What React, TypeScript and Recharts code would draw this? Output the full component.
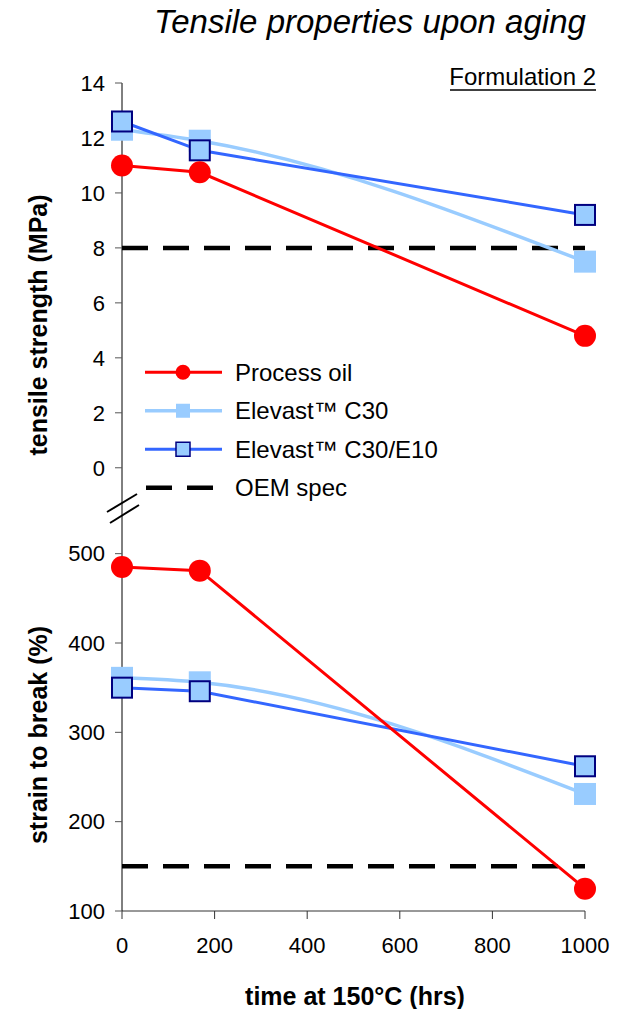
import React from 'react';
import { LineChart, Line, XAxis, YAxis, Legend } from 'recharts';

const times = [0, 168, 1000];
const seriesNames = ['Process oil', 'Elevast™ C30', 'Elevast™ C30/E10', 'OEM spec'];

const processOilTS = [11.0, 10.75, 4.8];
const c30TS = [12.3, 11.9, 7.5];
const c30e10TS = [12.6, 11.55, 9.2];
const oemTS = 8;

const processOilSB = [485, 481, 125];
const c30SB = [361, 356, 231];
const c30e10SB = [350, 346, 262];
const oemSB = 150;

const xTicks = [0, 200, 400, 600, 800, 1000];
const topTicks = [0, 2, 4, 6, 8, 10, 12, 14];
const bottomTicks = [100, 200, 300, 400, 500];

const title = 'Tensile properties upon aging';
const subtitle = 'Formulation 2';
const topYLabel = 'tensile strength (MPa)';
const bottomYLabel = 'strain to break (%)';
const xLabel = 'time at 150°C (hrs)';

const topData = times.map((t, i) => ({ t, oil: processOilTS[i], c30: c30TS[i], e10: c30e10TS[i], oem: oemTS }));
const bottomData = times.map((t, i) => ({ t, oil: processOilSB[i], c30: c30SB[i], e10: c30e10SB[i], oem: oemSB }));

const FONT = '"Liberation Sans", Arial, sans-serif';
const RED = '#FF0000';
const LIGHT = '#99CCFF';
const BLUE = '#3366FF';
const NAVY = '#000080';

const CircleDot = (props: any) => {
  const { cx, cy, index } = props;
  if (cx == null || cy == null) return null;
  return <circle key={`o${index}`} cx={cx} cy={cy} r={11} fill={RED} />;
};
const LightSquare = (props: any) => {
  const { cx, cy, index } = props;
  if (cx == null || cy == null) return null;
  return <rect key={`l${index}`} x={cx - 11} y={cy - 11} width={22} height={22} fill={LIGHT} />;
};
const NavySquare = (props: any) => {
  const { cx, cy, index } = props;
  if (cx == null || cy == null) return null;
  return <rect key={`n${index}`} x={cx - 10} y={cy - 10} width={20} height={20} fill={LIGHT} stroke={NAVY} strokeWidth={2} />;
};

const LegendContent = () => {
  const rowH = 38.5;
  return (
    <svg width={340} height={rowH * 4} style={{ display: 'block' }}>
      {seriesNames.map((name, i) => {
        const cy = rowH * i + rowH / 2;
        let sym: React.ReactNode = null;
        if (i === 0) {
          sym = (
            <g>
              <line x1={0} x2={77} y1={cy} y2={cy} stroke={RED} strokeWidth={3} />
              <circle cx={38} cy={cy} r={7.5} fill={RED} />
            </g>
          );
        } else if (i === 1) {
          sym = (
            <g>
              <line x1={0} x2={77} y1={cy} y2={cy} stroke={LIGHT} strokeWidth={3.5} />
              <rect x={31} y={cy - 7} width={14} height={14} fill={LIGHT} />
            </g>
          );
        } else if (i === 2) {
          sym = (
            <g>
              <line x1={0} x2={77} y1={cy} y2={cy} stroke={BLUE} strokeWidth={3} />
              <rect x={31} y={cy - 7} width={14} height={14} fill={LIGHT} stroke={NAVY} strokeWidth={1.5} />
            </g>
          );
        } else {
          sym = <line x1={1} x2={68} y1={cy} y2={cy} stroke="#000" strokeWidth={4.5} strokeDasharray="26 15" />;
        }
        return (
          <g key={name}>
            {sym}
            <text x={90} y={cy} dy="0.35em" fontSize={24} fontFamily={FONT} fill="#000">{name}</text>
          </g>
        );
      })}
    </svg>
  );
};

const tickStyle = { fontSize: 22, fill: '#000', fontFamily: FONT };

export default function App() {
  return (
    <div style={{ position: 'absolute', left: 0, top: 0, width: 625, height: 1009, background: '#fff', fontFamily: FONT }}>
      <div style={{ position: 'absolute', left: 0, top: 0 }}>
        <LineChart width={625} height={509} data={topData} margin={{ top: 83, right: 40, bottom: 0, left: 0 }}>
          <XAxis type="number" dataKey="t" domain={[0, 1000]} ticks={xTicks} hide height={0} />
          <YAxis
            type="number"
            domain={[-1.5, 14]}
            ticks={topTicks}
            interval={0}
            width={122}
            tickSize={7}
            tickMargin={10}
            tick={tickStyle}
            axisLine={{ stroke: '#000', strokeWidth: 1 }}
            tickLine={{ stroke: '#555', strokeWidth: 1 }}
            allowDataOverflow
          />
          <Line dataKey="oem" stroke="#000" strokeWidth={4.5} strokeDasharray="26 15" dot={false} activeDot={false} isAnimationActive={false} legendType="none" />
          <Line dataKey="c30" type="monotone" stroke={LIGHT} strokeWidth={3.5} dot={LightSquare} activeDot={false} isAnimationActive={false} />
          <Line dataKey="e10" stroke={BLUE} strokeWidth={3} dot={NavySquare} activeDot={false} isAnimationActive={false} />
          <Line dataKey="oil" stroke={RED} strokeWidth={3} dot={CircleDot} activeDot={false} isAnimationActive={false} />
          <Legend
            layout="vertical"
            align="center"
            verticalAlign="middle"
            content={LegendContent}
            wrapperStyle={{ left: 145, top: 353, width: 340, height: 154 }}
          />
        </LineChart>
      </div>
      <div style={{ position: 'absolute', left: 0, top: 509 }}>
        <LineChart width={625} height={500} data={bottomData} margin={{ top: 0, right: 40, bottom: 0, left: 0 }}>
          <XAxis
            type="number"
            dataKey="t"
            domain={[0, 1000]}
            ticks={xTicks}
            interval={0}
            height={98}
            tickSize={8}
            tickMargin={18}
            tick={tickStyle}
            axisLine={{ stroke: '#333', strokeWidth: 1 }}
            tickLine={{ stroke: '#333', strokeWidth: 1 }}
          />
          <YAxis
            type="number"
            domain={[100, 550]}
            ticks={bottomTicks}
            interval={0}
            width={122}
            tickSize={7}
            tickMargin={10}
            tick={tickStyle}
            axisLine={{ stroke: '#000', strokeWidth: 1 }}
            tickLine={{ stroke: '#555', strokeWidth: 1 }}
            allowDataOverflow
          />
          <Line dataKey="oem" stroke="#000" strokeWidth={4.5} strokeDasharray="26 15" dot={false} activeDot={false} isAnimationActive={false} />
          <Line dataKey="c30" type="monotone" stroke={LIGHT} strokeWidth={3.5} dot={LightSquare} activeDot={false} isAnimationActive={false} />
          <Line dataKey="e10" stroke={BLUE} strokeWidth={3} dot={NavySquare} activeDot={false} isAnimationActive={false} />
          <Line dataKey="oil" stroke={RED} strokeWidth={3} dot={CircleDot} activeDot={false} isAnimationActive={false} />
        </LineChart>
      </div>
      <svg width={625} height={1009} style={{ position: 'absolute', left: 0, top: 0, pointerEvents: 'none' }}>
        <text x={370} y={33} textAnchor="middle" fontSize={33} fontStyle="italic" fontFamily={FONT} fill="#000">{title}</text>
        <text x={596} y={85} textAnchor="end" fontSize={24} fontFamily={FONT} fill="#000">{subtitle}</text>
        <line x1={450} x2={596} y1={90} y2={90} stroke="#000" strokeWidth={1.5} />
        <text transform="translate(47,325) rotate(-90)" textAnchor="middle" fontSize={25} fontWeight="bold" fontFamily={FONT} fill="#000">{topYLabel}</text>
        <text transform="translate(47,735) rotate(-90)" textAnchor="middle" fontSize={25} fontWeight="bold" fontFamily={FONT} fill="#000">{bottomYLabel}</text>
        <text x={355} y={1005} textAnchor="middle" fontSize={25} fontWeight="bold" fontFamily={FONT} fill="#000">{xLabel}</text>
        <line x1={107} y1={512} x2={137} y2={494} stroke="#000" strokeWidth={2} />
        <line x1={110} y1={523} x2={139} y2={505} stroke="#000" strokeWidth={2} />
      </svg>
    </div>
  );
}
